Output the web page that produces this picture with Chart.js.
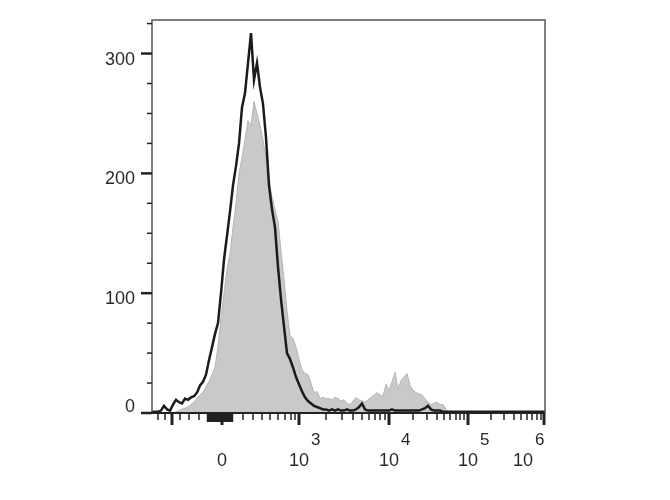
<!DOCTYPE html>
<html>
<head>
<meta charset="utf-8">
<script src="https://cdn.jsdelivr.net/npm/chart.js@4"></script>
<style>
  html, body { margin: 0; padding: 0; background: #fff; }
  #wrap { width: 670px; height: 500px; }
</style>
</head>
<body>
<div id="wrap"><canvas id="chart"></canvas></div>
<script>
// histogram bins (display channel units, 3 per bin)
const binWidth = 3;
const xMin = 0;
const xMax = 393;
const yMax = 328;

// sample (black outline)
const sampleCounts = [
  1, 1, 1, 2, 6, 3, 2, 7, 11, 9,
  8, 12, 11, 13, 14, 17, 23, 26, 32, 44,
  55, 66, 75, 100, 128, 148, 168, 190, 206, 225,
  255, 267, 292, 317, 278, 292, 272, 258, 230, 190,
  170, 155, 122, 95, 72, 50, 45, 38, 30, 24,
  18, 13, 10, 8, 6, 5, 4, 3, 3, 2,
  3, 2, 3, 2, 2, 3, 2, 2, 3, 5,
  8, 3, 2, 2, 2, 2, 2, 2, 2, 2,
  3, 2, 2, 2, 2, 2, 2, 2, 2, 2,
  3, 4, 6, 3, 2, 2, 2, 1, 1, 1,
  1, 1, 1, 1, 1, 1, 1, 1, 1, 1,
  1, 1, 1, 1, 1, 1, 1, 1, 1, 1,
  1, 1, 1, 1, 1, 1, 1, 1, 1, 1,
  1, 1
];

// control (grey filled)
const controlCounts = [
  0, 0, 0, 0, 0, 0, 0, 0, 1, 2,
  3, 4, 5, 7, 9, 12, 15, 17, 22, 26,
  32, 38, 55, 80, 100, 120, 133, 155, 175, 200,
  213, 228, 244, 240, 260, 250, 240, 228, 212, 195,
  180, 170, 160, 135, 112, 85, 65, 62, 55, 45,
  36, 33, 32, 25, 17, 18, 12, 13, 12, 12,
  11, 13, 12, 10, 11, 8, 7, 10, 13, 11,
  10, 9, 11, 13, 15, 17, 15, 14, 24, 19,
  26, 34, 20, 27, 30, 33, 23, 19, 17, 16,
  15, 12, 9, 7, 8, 9, 7, 7, 3, 0,
  0, 0, 0, 0, 0, 0, 0, 0, 0, 0,
  0, 0, 0, 0, 0, 0, 0, 0, 0, 0,
  0, 0, 0, 0, 0, 0, 0, 0, 0, 0,
  0, 0
];

// axis ticks
const yMajorTicks = [0, 100, 200, 300];
const yMinorTicks = [25, 50, 75, 125, 150, 175, 225, 250, 275, 325];
const xMajorTicks = [20, 70, 147, 237, 316, 392];
const xMinorTicks = [6, 13, 28, 37, 47, 56, 58, 60, 62, 64, 66, 68, 72, 74, 76, 78, 80,
  91, 101, 110, 118, 126, 133, 139, 143,
  174, 190, 201, 210, 217, 223, 228, 233,
  261, 275, 285, 292, 298, 304, 308, 312,
  339, 352, 362, 369, 375, 380, 385, 389];
const xLabelPositions = [70, 147, 237, 316, 371];
const xLabelBases = ['0', '10', '10', '10', '10'];
const xLabelExponents = ['', '3', '4', '5', '6'];

const toPoints = arr => arr.map((v, i) => ({ x: i * binWidth, y: v }));

const FONT = '"Liberation Sans", Arial, sans-serif';

const axesPlugin = {
  id: 'flowAxes',
  afterDatasetsDraw(chart) {
    const ctx = chart.ctx;
    const area = chart.chartArea;
    const xs = chart.scales.x;
    const ys = chart.scales.y;
    ctx.save();

    // frame
    ctx.strokeStyle = '#555';
    ctx.lineWidth = 1.5;
    ctx.beginPath();
    ctx.moveTo(area.left, area.bottom);
    ctx.lineTo(area.left, area.top);
    ctx.lineTo(area.right, area.top);
    ctx.lineTo(area.right, area.bottom);
    ctx.stroke();
    ctx.strokeStyle = '#222';
    ctx.lineWidth = 2;
    ctx.beginPath();
    ctx.moveTo(area.left, area.bottom);
    ctx.lineTo(area.right, area.bottom);
    ctx.stroke();

    // y ticks
    ctx.strokeStyle = '#222';
    yMajorTicks.forEach(v => {
      const y = ys.getPixelForValue(v);
      ctx.lineWidth = 2.5;
      ctx.beginPath();
      ctx.moveTo(area.left - 11, y);
      ctx.lineTo(area.left, y);
      ctx.stroke();
    });
    yMinorTicks.forEach(v => {
      const y = ys.getPixelForValue(v);
      ctx.lineWidth = 1.5;
      ctx.beginPath();
      ctx.moveTo(area.left - 5, y);
      ctx.lineTo(area.left, y);
      ctx.stroke();
    });

    ctx.fillStyle = '#2a2a2a';
    ctx.font = '18px ' + FONT;
    ctx.textAlign = 'right';
    ctx.textBaseline = 'middle';
    yMajorTicks.forEach(v => {
      const y = ys.getPixelForValue(v);
      const dy = v === 0 ? -6 : 6;
      ctx.fillText(String(v), area.left - 17, y + dy);
    });

    // x ticks
    xMajorTicks.forEach(v => {
      const x = xs.getPixelForValue(v);
      ctx.lineWidth = 3;
      ctx.beginPath();
      ctx.moveTo(x, area.bottom);
      ctx.lineTo(x, area.bottom + 12);
      ctx.stroke();
    });
    xMinorTicks.forEach(v => {
      const x = xs.getPixelForValue(v);
      const nearZero = v > 54 && v < 82;
      ctx.lineWidth = nearZero ? 2.5 : 1.5;
      ctx.beginPath();
      ctx.moveTo(x, area.bottom);
      ctx.lineTo(x, area.bottom + (nearZero ? 9 : 7));
      ctx.stroke();
    });

    // x labels with superscripts
    ctx.textBaseline = 'middle';
    xLabelPositions.forEach((v, i) => {
      const x = xs.getPixelForValue(v);
      ctx.font = '18px ' + FONT;
      ctx.textAlign = 'center';
      ctx.fillText(xLabelBases[i], x, area.bottom + 48);
      if (xLabelExponents[i]) {
        const w = ctx.measureText(xLabelBases[i]).width;
        ctx.font = '17px ' + FONT;
        ctx.textAlign = 'left';
        ctx.fillText(xLabelExponents[i], x + w / 2 + 2, area.bottom + 27);
      }
    });

    ctx.restore();
  }
};

new Chart(document.getElementById('chart'), {
  type: 'line',
  data: {
    datasets: [
      {
        label: 'Sample',
        data: toPoints(sampleCounts),
        borderColor: '#1b1b1b',
        borderWidth: 2.5,
        pointRadius: 0,
        tension: 0,
        fill: false
      },
      {
        label: 'Control',
        data: toPoints(controlCounts),
        borderColor: '#b4b4b4',
        borderWidth: 1,
        backgroundColor: '#c9c9c9',
        pointRadius: 0,
        tension: 0,
        fill: 'origin'
      }
    ]
  },
  options: {
    responsive: true,
    maintainAspectRatio: false,
    animation: false,
    layout: { padding: { left: 152, right: 125, top: 20, bottom: 87 } },
    plugins: { legend: { display: false }, tooltip: { enabled: false } },
    scales: {
      x: { type: 'linear', min: xMin, max: xMax, display: false },
      y: { type: 'linear', min: 0, max: yMax, display: false }
    }
  },
  plugins: [axesPlugin]
});
</script>
</body>
</html>
